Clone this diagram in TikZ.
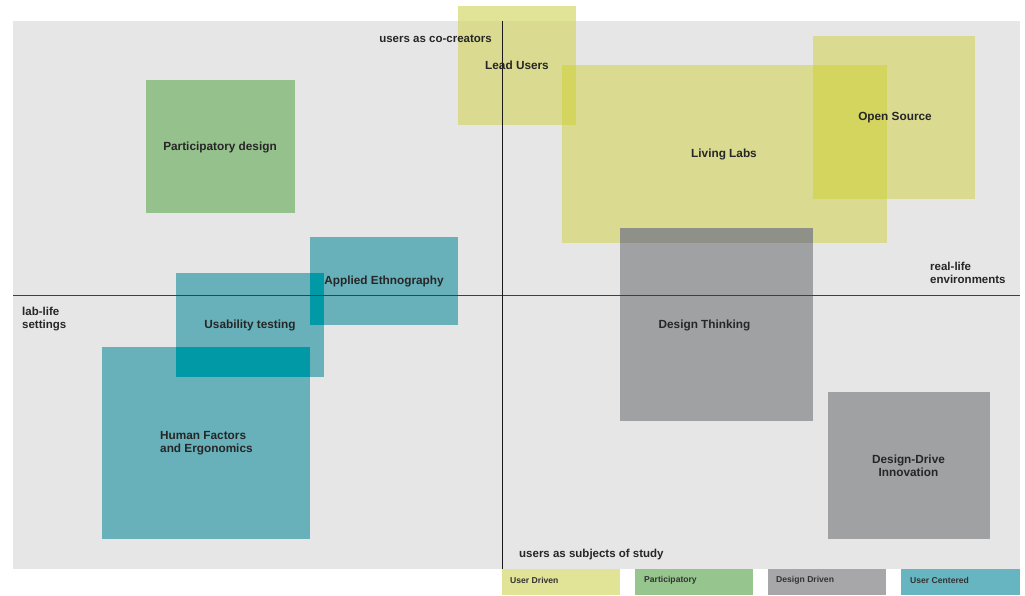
\documentclass[tikz,border=0pt]{standalone}
\usepackage{fontspec}
\setmainfont{Liberation Sans}
\begin{document}
\begin{tikzpicture}[x=1pt,y=-1pt,
  box/.style={rectangle,inner sep=0pt,outer sep=0pt,draw=none,anchor=north west},
  lbl/.style={inner sep=0pt,font=\bfseries\fontsize{11.8}{12.8}\selectfont,text=black!85},
  axl/.style={inner sep=0pt,font=\bfseries\fontsize{11.5}{12.8}\selectfont,text=black!85,align=left},
  leg/.style={inner sep=0pt,anchor=west,font=\bfseries\fontsize{8.6}{9}\selectfont,text=black!80}]
\definecolor{bggray}{HTML}{E6E6E6}
\definecolor{yelG}{HTML}{DADB90}
\definecolor{yelW}{HTML}{E1E396}
\definecolor{yelO}{HTML}{D3D55E}
\definecolor{grnG}{HTML}{95C18C}
\definecolor{tealG}{HTML}{68B0BA}
\definecolor{tealO}{HTML}{0099A5}
\definecolor{grayB}{HTML}{A0A1A3}
\definecolor{grayO}{HTML}{8F9088}
\definecolor{legY}{HTML}{E1E396}
\definecolor{legG}{HTML}{96C58E}
\definecolor{legD}{HTML}{A7A7AA}
\definecolor{legT}{HTML}{67B5C0}
\useasboundingbox (0,0) rectangle (1025,595);
\fill[white] (0,0) rectangle (1025,595);
% background
\node[box,fill=bggray,minimum width=1007pt,minimum height=548pt] (bg) at (13,21) {};
% boxes
\node[box,fill=grnG,minimum width=149pt,minimum height=133pt] (pd) at (146,80) {};
\node[box,fill=tealG,minimum width=208pt,minimum height=192pt] (hf) at (102,347) {};
\node[box,fill=tealG,minimum width=148pt,minimum height=104pt] (usab) at (176,273) {};
\node[box,fill=tealG,minimum width=148pt,minimum height=88pt] (ae) at (310,237) {};
\node[box,fill=yelG,minimum width=118pt,minimum height=119pt] (lead) at (458,6) {};
\node[box,fill=yelG,minimum width=325pt,minimum height=178pt] (living) at (562,65) {};
\node[box,fill=yelG,minimum width=162pt,minimum height=163pt] (open) at (813,36) {};
\node[box,fill=grayB,minimum width=193pt,minimum height=193pt] (dt) at (620,228) {};
\node[box,fill=grayB,minimum width=162pt,minimum height=147pt] (ddi) at (828,392) {};
% overlaps
\fill[yelW] (lead.north west) rectangle (lead.east |- bg.north);
\fill[yelO] (living.north west) rectangle (lead.south east);
\fill[yelO] (open.west |- living.north) rectangle (living.east |- open.south);
\fill[grayO] (dt.north west) rectangle (dt.east |- living.south);
\fill[tealO] (ae.west |- usab.north) rectangle (usab.east |- ae.south);
\fill[tealO] (usab.west |- hf.north) rectangle (hf.east |- usab.south);
% axes
\coordinate (vtop) at (502,21);
\coordinate (vbot) at (502,569);
\coordinate (hl) at (13,295);
\coordinate (hr) at (1020,295);
\draw[black!75,line width=1pt] (hl) -- (hr);
\draw[black!90,line width=0.9pt] (vtop) -- (vbot);
% legend
\node[box,fill=legY,minimum width=118pt,minimum height=26pt] (lud) at (502,569) {};
\node[box,fill=legG,minimum width=118pt,minimum height=26pt] (lpa) at (635,569) {};
\node[box,fill=legD,minimum width=118pt,minimum height=26pt] (ldd) at (768,569) {};
\node[box,fill=legT,minimum width=119pt,minimum height=26pt] (luc) at (901,569) {};
\node[leg] (tud) at (510,580) {User Driven};
\node[leg] (tpa) at (644,580) {Participatory};
\node[leg] (tdd) at (776,580) {Design Driven};
\node[leg] (tuc) at (910,580) {User Centered};
% labels
\node[axl,anchor=east] (cocr) at (492,38.5) {users as co-creators};
\node[axl,anchor=west] (subj) at (519,554.5) {users as subjects of study};
\node[axl,anchor=west] (lab) at (22,319) {lab-life\\settings};
\node[axl,anchor=west] (real) at (930,273) {real-life\\environments};
\node[lbl] (tlead) at (517,65.5) {Lead Users};
\node[lbl] (tpd) at (220,147.5) {Participatory design};
\node[lbl] (tae) at (384,281.5) {Applied Ethnography};
\node[lbl] (tliv) at (724,154.5) {Living Labs};
\node[lbl] (topen) at (895,117.5) {Open Source};
\node[lbl] (tusab) at (250,325.5) {Usability testing};
\node[lbl,anchor=west,align=left] (thf) at (160,443.5) {Human Factors\\and Ergonomics};
\node[lbl] (tdt) at (704.5,325.5) {Design Thinking};
\node[lbl,align=center] (tddi) at (908.5,466) {Design-Drive\\Innovation};
\end{tikzpicture}
\end{document}
